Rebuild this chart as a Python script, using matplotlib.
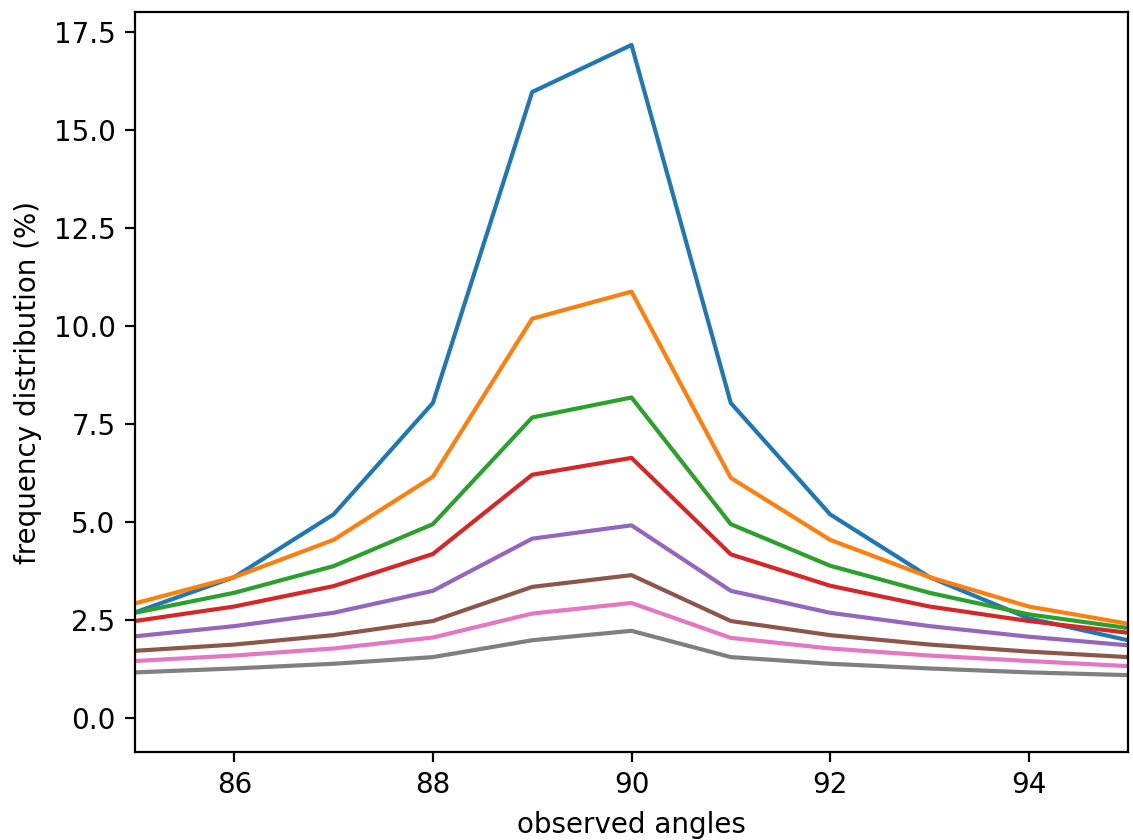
import numpy as np
import matplotlib.pyplot as plt

# observed angles (degrees)
angles = np.arange(85, 96)

# frequency distribution (%) per curve
blue   = [2.70, 3.60, 5.20, 8.04, 15.97, 17.17, 8.04, 5.20, 3.60, 2.55, 1.99]
orange = [2.93, 3.60, 4.55, 6.16, 10.19, 10.88, 6.13, 4.55, 3.60, 2.85, 2.41]
green  = [2.69, 3.20, 3.88, 4.95, 7.67, 8.18, 4.95, 3.89, 3.20, 2.65, 2.30]
red    = [2.48, 2.85, 3.37, 4.19, 6.21, 6.64, 4.18, 3.38, 2.85, 2.48, 2.18]
purple = [2.09, 2.35, 2.69, 3.25, 4.58, 4.92, 3.25, 2.69, 2.35, 2.08, 1.86]
brown  = [1.72, 1.88, 2.12, 2.48, 3.35, 3.65, 2.48, 2.12, 1.88, 1.70, 1.56]
pink   = [1.46, 1.60, 1.78, 2.06, 2.67, 2.94, 2.05, 1.78, 1.60, 1.46, 1.33]
gray   = [1.17, 1.27, 1.39, 1.56, 1.99, 2.23, 1.56, 1.39, 1.27, 1.17, 1.10]

curves = [blue, orange, green, red, purple, brown, pink, gray]

W, H, dpi = 1133, 840, 200
fig = plt.figure(figsize=(W / dpi, H / dpi), dpi=dpi)
ax = fig.add_axes([135 / W, (H - 752) / H, (1128 - 135) / W, (752 - 12) / H])

for c in curves:
  ax.plot(angles, c)

ax.set_xlim(85, 95)
ax.set_ylim(-0.86, 18.01)
ax.set_xticks([86, 88, 90, 92, 94])
ax.set_xlabel('observed angles')
ax.set_ylabel('frequency distribution (%)')

plt.savefig('out.png', dpi=dpi)
